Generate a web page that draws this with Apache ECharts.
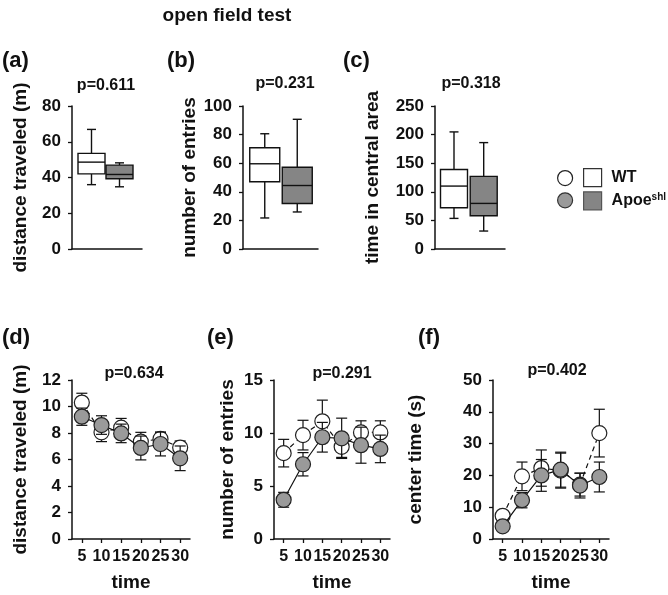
<!DOCTYPE html>
<html><head><meta charset="utf-8">
<script src="https://cdn.jsdelivr.net/npm/echarts@6/dist/echarts.min.js"></script>
<style>html,body{margin:0;padding:0;background:#fff}#c{width:668px;height:595px}</style>
</head><body><div id="c"></div>
<script>
// ---------- data ----------
const groups = ['WT', 'Apoe'];
// box stats: [min, Q1, median, Q3, max]
const distBoxWT = [36, 42, 48.6, 53.5, 66.9];
const distBoxApoe = [34.8, 39.3, 41.7, 46.9, 48.2];
const entriesBoxWT = [21.7, 47, 59.6, 70.8, 80.6];
const entriesBoxApoe = [25.9, 31.8, 44.4, 57.2, 90.7];
const centralBoxWT = [53.5, 72, 110, 139, 204.7];
const centralBoxApoe = [31.4, 58, 79.7, 127, 186];

const timeBins = ['5', '10', '15', '20', '25', '30'];
const distWT = [10.3, 8.05, 8.4, 7.35, 7.55, 6.9];
const distWTErr = [0.7, 0.7, 0.7, 0.7, 0.5, 0.5];
const distApoe = [9.23, 8.6, 7.97, 6.87, 7.17, 6.09];
const distApoeErr = [0.65, 0.7, 0.7, 0.9, 0.9, 0.93];
const entWT = [8.1, 9.8, 11.1, 8.7, 10.05, 10.05];
const entWTErr = [1.3, 1.4, 2.0, 1.0, 1.1, 1.1];
const entApoe = [3.7, 7.05, 9.6, 9.5, 8.85, 8.5];
const entApoeErr = [0.7, 1.1, 1.4, 1.9, 1.7, 1.3];
const ctWT = [7.3, 19.7, 22.3, 21.5, 17.1, 33.3];
const ctWTErr = [1.2, 4.5, 5.7, 5.5, 3.6, 7.5];
const ctApoe = [4.0, 12.2, 20.0, 21.8, 16.8, 19.5];
const ctApoeErr = [1.0, 2.4, 5.0, 5.5, 3.9, 4.7];

const yMax = [80, 100, 250, 12, 15, 50];
const yStep = [20, 20, 50, 2, 5, 10];
const pValues = ['p=0.611', 'p=0.231', 'p=0.318', 'p=0.634', 'p=0.291', 'p=0.402'];
const panelTags = ['(a)', '(b)', '(c)', '(d)', '(e)', '(f)'];
const yNames = ['distance traveled (m)', 'number of entries', 'time in central area',
                'distance traveled (m)', 'number of entries', 'center time (s)'];
const mainTitle = 'open field test';
const xName = 'time';

// ---------- layout / style ----------
const FONT = '"Liberation Sans", Arial, sans-serif';
const INK = '#111';
const GRAY_BOX = '#858585';
const GRAY_DOT = '#9a9a9a';
const grids = [
  {left: 72, top: 106, width: 70, height: 143},
  {left: 243, top: 106, width: 75, height: 143},
  {left: 435, top: 106, width: 70, height: 143},
  {left: 72, top: 380, width: 118, height: 159},
  {left: 274, top: 380, width: 116, height: 159},
  {left: 493, top: 380, width: 116, height: 159}
];
const nameGaps = [42, 41, 53, 42, 37, 68];
const boxShift = [[2, -5], [3, -2], [1.5, -3.8]];
const boxWidth = [27, 30, 27];
const tagPos = [[2, 50], [167, 50], [343, 50], [2, 327], [207, 327], [418, 327]];
const pPos = [[106, 78], [285, 76], [471, 76], [134, 366], [342, 366], [557, 363]];

const chart = echarts.init(document.getElementById('c'));

function boxSeries(g, name, idx, stats, fill) {
  return {
    type: 'custom', name: name, xAxisIndex: g, yAxisIndex: g, z: 3,
    data: [[idx].concat(stats)],
    renderItem: function (params, api) {
      const i = api.value(0);
      const mn = api.value(1), q1 = api.value(2), md = api.value(3), q3 = api.value(4), mx = api.value(5);
      const cx = api.coord([i, md])[0] + boxShift[g][i];
      const y = v => api.coord([i, v])[1];
      const hw = boxWidth[g] / 2, cap = 4.5;
      const st = {stroke: INK, lineWidth: 1.4};
      return {type: 'group', children: [
        {type: 'line', shape: {x1: cx, y1: y(q3), x2: cx, y2: y(mx)}, style: st},
        {type: 'line', shape: {x1: cx - cap, y1: y(mx), x2: cx + cap, y2: y(mx)}, style: st},
        {type: 'line', shape: {x1: cx, y1: y(q1), x2: cx, y2: y(mn)}, style: st},
        {type: 'line', shape: {x1: cx - cap, y1: y(mn), x2: cx + cap, y2: y(mn)}, style: st},
        {type: 'rect', shape: {x: cx - hw, y: y(q3), width: 2 * hw, height: y(q1) - y(q3)},
         style: {fill: fill, stroke: INK, lineWidth: 1.4}},
        {type: 'line', shape: {x1: cx - hw, y1: y(md), x2: cx + hw, y2: y(md)}, style: st}
      ]};
    }
  };
}

function errSeries(g, name, vals, errs, z) {
  return {
    type: 'custom', name: name, xAxisIndex: g, yAxisIndex: g, z: z,
    data: vals.map((v, i) => [i, v, errs[i]]),
    renderItem: function (params, api) {
      const i = api.value(0), v = api.value(1), e = api.value(2);
      const t = api.coord([i, v + e]), b = api.coord([i, v - e]);
      const cw = 5.5;
      const st = {stroke: INK, lineWidth: 1.2};
      return {type: 'group', children: [
        {type: 'line', shape: {x1: t[0], y1: t[1], x2: b[0], y2: b[1]}, style: st},
        {type: 'line', shape: {x1: t[0] - cw, y1: t[1], x2: t[0] + cw, y2: t[1]}, style: st},
        {type: 'line', shape: {x1: b[0] - cw, y1: b[1], x2: b[0] + cw, y2: b[1]}, style: st}
      ]};
    }
  };
}

function lineSeries(g, name, vals, fill, dashed, z) {
  return {
    type: 'line', name: name, xAxisIndex: g, yAxisIndex: g, z: z,
    data: vals, symbol: 'circle', symbolSize: 15, showSymbol: true,
    itemStyle: {color: fill, borderColor: '#222', borderWidth: 1.2},
    lineStyle: {color: INK, width: 1.2, type: dashed ? [5, 4] : 'solid'},
    emphasis: {disabled: true}, silent: true
  };
}

const xAxes = grids.map((gr, g) => {
  const top = g < 3;
  return {
    type: 'category', gridIndex: g, data: top ? groups : timeBins, boundaryGap: true,
    axisLine: {lineStyle: {color: INK, width: 1.5}},
    axisTick: {show: !top, alignWithLabel: true, length: 4, lineStyle: {color: INK, width: 1.3}},
    axisLabel: {show: !top, color: INK, fontFamily: FONT, fontWeight: 'bold', fontSize: 16, margin: 10, interval: 0},
    name: top ? '' : xName, nameLocation: 'middle', nameGap: 34,
    nameTextStyle: {color: INK, fontFamily: FONT, fontWeight: 'bold', fontSize: 19}
  };
});

const yAxes = grids.map((gr, g) => ({
  type: 'value', gridIndex: g, min: 0, max: yMax[g], interval: yStep[g],
  axisLine: {show: true, lineStyle: {color: INK, width: 1.5}},
  axisTick: {show: true, length: 4, lineStyle: {color: INK, width: 1.3}},
  splitLine: {show: false},
  axisLabel: {color: INK, fontFamily: FONT, fontWeight: 'bold', fontSize: 17, margin: 11},
  name: yNames[g], nameLocation: 'middle', nameGap: nameGaps[g],
  nameTextStyle: {color: INK, fontFamily: FONT, fontWeight: 'bold', fontSize: 19}
}));

const titles = [{text: mainTitle, left: 227, top: 6, textAlign: 'center', padding: 0,
  textStyle: {fontFamily: FONT, fontWeight: 'bold', fontSize: 19, color: INK}}];
panelTags.forEach((t, i) => titles.push({text: t, left: tagPos[i][0], top: tagPos[i][1], padding: 0,
  textStyle: {fontFamily: FONT, fontWeight: 'bold', fontSize: 22, color: INK}}));
pValues.forEach((t, i) => titles.push({text: t, left: pPos[i][0], top: pPos[i][1], textAlign: 'center', padding: 0,
  textStyle: {fontFamily: FONT, fontWeight: 'bold', fontSize: 16, color: INK}}));

const series = [
  boxSeries(0, 'WT', 0, distBoxWT, '#fff'),
  boxSeries(0, 'Apoe', 1, distBoxApoe, GRAY_BOX),
  boxSeries(1, 'WT', 0, entriesBoxWT, '#fff'),
  boxSeries(1, 'Apoe', 1, entriesBoxApoe, GRAY_BOX),
  boxSeries(2, 'WT', 0, centralBoxWT, '#fff'),
  boxSeries(2, 'Apoe', 1, centralBoxApoe, GRAY_BOX)
];
const lineSets = [[distWT, distWTErr, distApoe, distApoeErr],
                  [entWT, entWTErr, entApoe, entApoeErr],
                  [ctWT, ctWTErr, ctApoe, ctApoeErr]];
lineSets.forEach((s, k) => {
  const g = k + 3;
  series.push(errSeries(g, 'WT', s[0], s[1], 4));
  series.push(lineSeries(g, 'WT', s[0], '#fff', true, 5));
  series.push(errSeries(g, 'Apoe', s[2], s[3], 6));
  series.push(lineSeries(g, 'Apoe', s[2], GRAY_DOT, false, 7));
});

chart.setOption({
  backgroundColor: '#fff',
  animation: false,
  title: titles,
  grid: grids,
  xAxis: xAxes,
  yAxis: yAxes,
  legend: [
    {orient: 'vertical', left: 557, top: 170, padding: 0, itemWidth: 15, itemHeight: 15, itemGap: 6,
     selectedMode: false, formatter: () => '',
     textStyle: {fontSize: 12, lineHeight: 15},
     data: [
       {name: 'WT', icon: 'circle', itemStyle: {color: '#fff', borderColor: '#222', borderWidth: 1.2}},
       {name: 'Apoe', icon: 'circle', itemStyle: {color: GRAY_DOT, borderColor: '#333', borderWidth: 1.2}}
     ]},
    {orient: 'vertical', left: 583, top: 168, padding: 0, itemWidth: 18, itemHeight: 18, itemGap: 4,
     selectedMode: false,
     formatter: n => n === 'Apoe' ? '{b|Apoe}{s|shl}' : '{b|WT}',
     textStyle: {color: INK, fontFamily: FONT, fontWeight: 'bold', fontSize: 16, padding: [0, 0, 0, 5],
       rich: {b: {fontFamily: FONT, fontWeight: 'bold', fontSize: 16, color: INK},
              s: {fontFamily: FONT, fontWeight: 'bold', fontSize: 10, color: INK, padding: [0, 0, 8, 0]}}},
     data: [
       {name: 'WT', icon: 'rect', itemStyle: {color: '#fff', borderColor: '#333', borderWidth: 1.2}},
       {name: 'Apoe', icon: 'rect', itemStyle: {color: GRAY_BOX, borderColor: '#555', borderWidth: 1.2}}
     ]}
  ],
  series: series
});
</script></body></html>
